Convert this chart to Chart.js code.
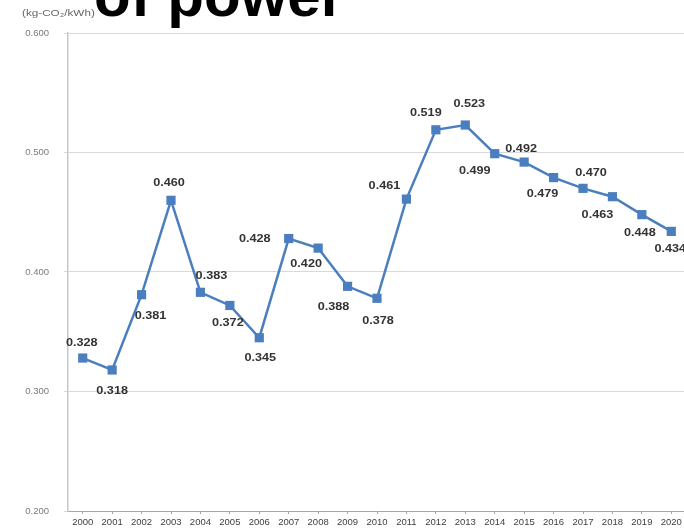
<!DOCTYPE html>
<html>
<head>
<meta charset="utf-8">
<script src="https://cdn.jsdelivr.net/npm/chart.js@4/dist/chart.umd.min.js"></script>
<style>
  html, body { margin: 0; padding: 0; background: #ffffff; overflow: hidden; }
  #wrap { position: relative; width: 700px; height: 532px; }
</style>
</head>
<body>
<div id="wrap"><canvas id="c" width="700" height="532"></canvas></div>
<script>
// CO2 emission factor of power, kg-CO2 per kWh, by fiscal year
const years = ['2000','2001','2002','2003','2004','2005','2006','2007','2008','2009','2010',
               '2011','2012','2013','2014','2015','2016','2017','2018','2019','2020'];
const emissionFactor = [0.328, 0.318, 0.381, 0.460, 0.383, 0.372, 0.345, 0.428, 0.420, 0.388, 0.378,
                        0.461, 0.519, 0.523, 0.499, 0.492, 0.479, 0.470, 0.463, 0.448, 0.434];
const yTicks = [0.200, 0.300, 0.400, 0.500, 0.600];
const titleText = 'of power';
const unitText = '(kg-CO\u2082/kWh)';

// where each value label sits relative to its marker (dx, dy in px)
const labelOffsets = [
  [-1,-15],[0,21],[9,21],[-2,-17],[11,-16],[-2,18],[1,20],[-34,0],[-12,16],[-14,21],[1,23],
  [-22,-13],[-10,-17],[4,-21],[-20,17],[-3,-13],[-11,16],[8,-15],[-15,18],[-2,18],[-1,18]
];

const BLUE = '#4a7ebf';

// bold value text next to every marker
const valueLabels = {
  id: 'valueLabels',
  afterDatasetsDraw(chart) {
    const ctx = chart.ctx;
    const meta = chart.getDatasetMeta(0);
    ctx.save();
    ctx.fillStyle = '#333333';
    ctx.font = 'bold 11px "Liberation Sans", Arial, sans-serif';
    ctx.textAlign = 'center';
    ctx.textBaseline = 'middle';
    meta.data.forEach((pt, i) => {
      const [dx, dy] = labelOffsets[i];
      ctx.save();
      ctx.translate(pt.x + dx, pt.y + dy);
      ctx.scale(1.15, 1);
      ctx.fillText(emissionFactor[i].toFixed(3), 0, 0);
      ctx.restore();
    });
    ctx.restore();
  }
};

// heading (runs off the top edge) and the unit caption above the value axis
const headerText = {
  id: 'headerText',
  afterDraw(chart) {
    const ctx = chart.ctx;
    ctx.save();
    ctx.fillStyle = '#000000';
    ctx.font = 'bold 60px "Liberation Sans", Arial, sans-serif';
    ctx.textAlign = 'left';
    ctx.textBaseline = 'alphabetic';
    ctx.fillText(titleText, 94, 16);
    ctx.fillStyle = '#666666';
    ctx.font = '9px "Liberation Sans", Arial, sans-serif';
    ctx.textBaseline = 'middle';
    ctx.translate(22, 14);
    ctx.scale(1.3, 1);
    ctx.fillText(unitText, 0, 0);
    ctx.restore();
  }
};

new Chart(document.getElementById('c'), {
  type: 'line',
  data: {
    labels: years,
    datasets: [{
      data: emissionFactor,
      borderColor: BLUE,
      backgroundColor: BLUE,
      borderWidth: 2.5,
      pointStyle: 'rect',
      pointRadius: 6.5,
      pointBorderWidth: 0,
      pointBackgroundColor: BLUE,
      tension: 0,
      clip: false
    }]
  },
  options: {
    responsive: false,
    animation: false,
    devicePixelRatio: 1,
    layout: { padding: { top: 33, right: 14, left: 0, bottom: 0 } },
    plugins: { legend: { display: false }, title: { display: false }, tooltip: { enabled: false } },
    scales: {
      x: {
        type: 'category',
        offset: true,
        grid: { drawOnChartArea: false, drawTicks: true, tickLength: 3, color: '#a6a6a6' },
        border: { color: '#a6a6a6', width: 1 },
        ticks: {
          color: '#404040',
          font: { family: '"Liberation Sans", Arial, sans-serif', size: 9.5 },
          padding: 3,
          maxRotation: 0,
          autoSkip: false
        },
        afterFit(scale) { scale.height = 21; }
      },
      y: {
        min: yTicks[0],
        max: yTicks[yTicks.length - 1],
        afterBuildTicks(scale) { scale.ticks = yTicks.map(v => ({ value: v })); },
        grid: { color: '#d9d9d9', lineWidth: 1, drawTicks: true, tickLength: 4 },
        border: { color: '#c8c8c8', width: 1.5 },
        ticks: {
          color: '#7a7a7a',
          font: { family: '"Liberation Sans", Arial, sans-serif', size: 9.5 },
          padding: 15,
          callback: v => Number(v).toFixed(3)
        },
        afterFit(scale) { scale.width = 68; }
      }
    }
  },
  plugins: [valueLabels, headerText]
});
</script>
</body>
</html>
